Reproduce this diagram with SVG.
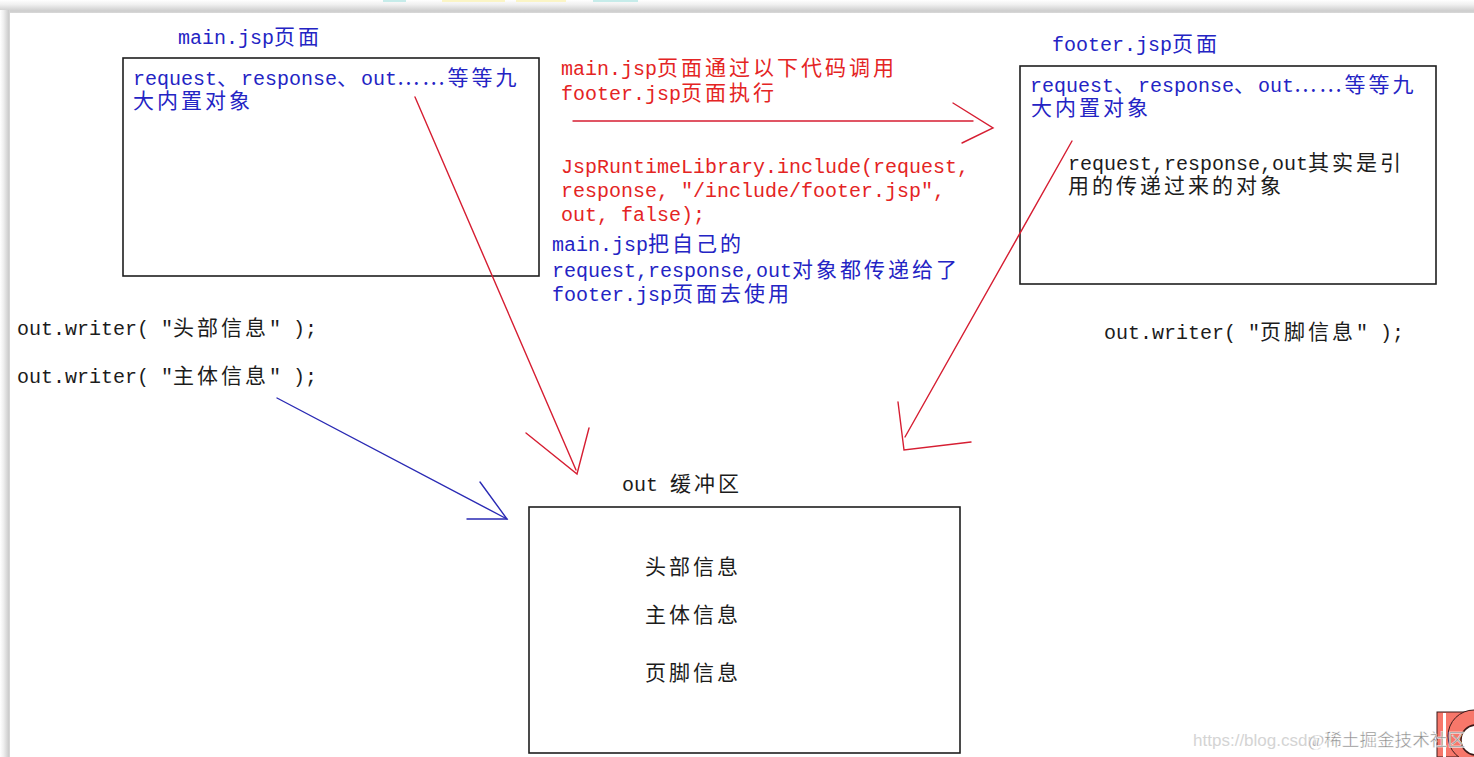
<svg xmlns="http://www.w3.org/2000/svg" width="1474" height="757" viewBox="0 0 1474 757">
<style>
  .t{font-family:"Liberation Mono","Noto Sans CJK SC",monospace;font-size:20px}
  .c{font-family:"Noto Sans CJK SC",sans-serif;font-size:21px;letter-spacing:3px}
  .blue{fill:#2424c4}
  .red{fill:#e42424}
  .blk{fill:#1c1c1c}
  .box{fill:#ffffff;stroke:#1e1e1e;stroke-width:1.6}
  .rl{stroke:#d61e32;stroke-width:1.4;fill:none;stroke-linecap:round}
  .bl{stroke:#2a2ab4;stroke-width:1.4;fill:none;stroke-linecap:round}
</style>
<defs>
  <linearGradient id="gt" x1="0" y1="0" x2="0" y2="1">
    <stop offset="0" stop-color="#ffffff"/>
    <stop offset="0.35" stop-color="#f0f0f0"/>
    <stop offset="0.85" stop-color="#cdcdcd"/>
    <stop offset="1" stop-color="#d9d9d9"/>
  </linearGradient>
  <linearGradient id="gl" x1="0" y1="0" x2="1" y2="0">
    <stop offset="0" stop-color="#ffffff"/>
    <stop offset="0.35" stop-color="#efefef"/>
    <stop offset="0.85" stop-color="#cdcdcd"/>
    <stop offset="1" stop-color="#d9d9d9"/>
  </linearGradient>
</defs>
<rect x="0" y="0" width="1474" height="757" fill="#ffffff"/>
<g id="frame">
  <rect x="0" y="0" width="1474" height="13" fill="url(#gt)"/>
  <rect x="0" y="10" width="10" height="747" fill="url(#gl)"/>
  <rect x="10" y="13" width="1464" height="744" fill="#ffffff"/>
  <rect x="383" y="0" width="23" height="2" fill="#c6ecea"/>
  <rect x="442" y="0" width="63" height="2" fill="#fbf5c6"/>
  <rect x="516" y="0" width="50" height="2" fill="#fbf5c6"/>
  <rect x="593" y="0" width="45" height="2" fill="#c6ecea"/>
</g>
<g id="node-main">
  <text class="t blue" x="178" y="44">main.jsp<tspan class="c">页面</tspan></text>
  <rect class="box" x="123" y="58" width="416" height="218"/>
  <text class="t blue" x="133" y="85">request<tspan class="c">、</tspan>response<tspan class="c">、</tspan>out<tspan class="c">……等等九</tspan></text>
  <text class="t blue" x="133" y="108"><tspan class="c">大内置对象</tspan></text>
</g>
<g id="node-footer">
  <text class="t blue" x="1052" y="51">footer.jsp<tspan class="c">页面</tspan></text>
  <rect class="box" x="1020" y="66" width="416" height="218"/>
  <text class="t blue" x="1030" y="92">request<tspan class="c">、</tspan>response<tspan class="c">、</tspan>out<tspan class="c">……等等九</tspan></text>
  <text class="t blue" x="1031" y="115"><tspan class="c">大内置对象</tspan></text>
  <text class="t blk" x="1068" y="170">request,response,out<tspan class="c">其实是引</tspan></text>
  <text class="t blk" x="1068" y="193"><tspan class="c">用的传递过来的对象</tspan></text>
</g>
<g id="node-buffer">
  <text class="t blk" x="622" y="491">out <tspan class="c">缓冲区</tspan></text>
  <rect class="box" x="529" y="507" width="431" height="246"/>
  <text class="t blk" x="645" y="574"><tspan class="c">头部信息</tspan></text>
  <text class="t blk" x="645" y="622"><tspan class="c">主体信息</tspan></text>
  <text class="t blk" x="645" y="680"><tspan class="c">页脚信息</tspan></text>
</g>
<g id="labels">
  <text class="t red" x="561" y="75">main.jsp<tspan class="c">页面通过以下代码调用</tspan></text>
  <text class="t red" x="561" y="100">footer.jsp<tspan class="c">页面执行</tspan></text>
  <text class="t red" x="561" y="173">JspRuntimeLibrary.include(request,</text>
  <text class="t red" x="561" y="197">response, "/include/footer.jsp",</text>
  <text class="t red" x="561" y="221">out, false);</text>
  <text class="t blue" x="552" y="251">main.jsp<tspan class="c">把自己的</tspan></text>
  <text class="t blue" x="552" y="277">request,response,out<tspan class="c">对象都传递给了</tspan></text>
  <text class="t blue" x="552" y="301">footer.jsp<tspan class="c">页面去使用</tspan></text>
  <text class="t blk" x="17" y="335">out.writer( "<tspan class="c">头部信息</tspan>" );</text>
  <text class="t blk" x="17" y="383">out.writer( "<tspan class="c">主体信息</tspan>" );</text>
  <text class="t blk" x="1104" y="339">out.writer( "<tspan class="c">页脚信息</tspan>" );</text>
</g>
<g id="connectors">
  <line class="rl" x1="573" y1="121" x2="973" y2="121"/>
  <polyline class="rl" points="953,103 993,128 962,143"/>
  <line class="rl" x1="415" y1="97" x2="576" y2="470"/>
  <polyline class="rl" points="526,433 577,474 589,428"/>
  <line class="rl" x1="1072" y1="141" x2="905" y2="437"/>
  <polyline class="rl" points="898,402 904,450 971,442"/>
  <line class="bl" x1="277" y1="398" x2="507" y2="519"/>
  <polyline class="bl" points="480,482 507,519 467,519"/>
</g>
<g id="watermark">
  <text x="1193" y="746" font-family="Liberation Sans, sans-serif" font-size="16" fill="#d4d4d4" textLength="124" lengthAdjust="spacingAndGlyphs">https://blog.csdn</text>
  <rect x="1437" y="712" width="37" height="45" fill="#f7776a" stroke="#3a1a1a" stroke-width="1"/>
  <rect x="1443" y="713" width="3" height="44" fill="#ffffff"/>
  <circle cx="1474" cy="736" r="26" fill="#f7776a" stroke="#3a1a1a" stroke-width="1"/>
  <circle cx="1476" cy="740" r="15" fill="#ffffff" stroke="#3a1a1a" stroke-width="1.5"/>
  <text x="1308" y="746" font-family="Liberation Serif, 'Noto Sans CJK SC', serif" font-size="17" fill="#8a8a8a" stroke="#ffffff" stroke-width="0.4" textLength="157" lengthAdjust="spacingAndGlyphs">@稀土掘金技术社区</text>
</g>
</svg>
